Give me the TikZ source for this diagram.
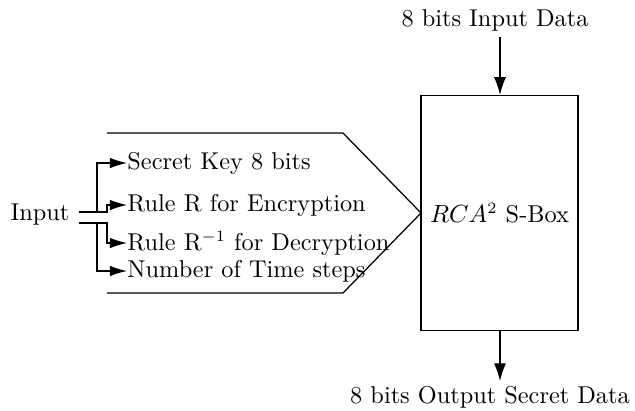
\documentclass[tikz,border=0pt]{standalone}
\usetikzlibrary{arrows.meta}
\begin{document}
\begin{tikzpicture}[x=0.44pt,y=-0.44pt,
  every node/.style={font=\fontsize{10.7}{12.8}\selectfont},
  lbl/.style={inner sep=0pt,anchor=west},
  arr/.style={-{Latex[length=7.5pt,width=4.6pt]},line width=0.55pt},
  varr/.style={-{Latex[length=7.8pt,width=5.3pt]},line width=0.55pt},
  ln/.style={line width=0.55pt}]
\useasboundingbox (0,0) rectangle (635,410);
% S-box
\node[draw,line width=0.55pt,minimum width=157*0.44pt,minimum height=235*0.44pt,inner sep=0pt] (box) at (499.5,213) {$RCA^2$ S-Box};
\node (top) at (495,20) {8 bits Input Data};
\node (bot) at (490,397) {8 bits Output Secret Data};
\coordinate (tin) at (500,37);
\coordinate (bout) at (500,381);
\draw[varr] (tin) -- (box.north -| tin);
\draw[varr] (box.south -| bout) -- (bout);
% pentagon
\coordinate (p1) at (107,133);
\coordinate (p2) at (343,133);
\coordinate (p3) at (421,213);
\coordinate (p4) at (343,293);
\coordinate (p5) at (107,293);
\draw[ln] (p1) -- (p2) -- (p3) -- (p4) -- (p5);
% input
\node (in) at (40,215) {Input};
\node[lbl] (l1) at (127,163) {Secret Key 8 bits};
\node[lbl] (l2) at (127,205) {Rule R for Encryption};
\node[lbl] (l3) at (127,243) {Rule R$^{-1}$ for Decryption};
\node[lbl] (l4) at (127,271) {Number of Time steps};
\coordinate (a) at (79,212);
\coordinate (b) at (79,223);
\draw[arr] (a) -- (97,212) -- (97,163) -- (l1.west);
\draw[arr] (a) -- (107,212) -- (107,205) -- (l2.west);
\draw[arr] (b) -- (107,223) -- (107,243) -- (l3.west);
\draw[arr] (b) -- (97,223) -- (97,271) -- (l4.west);
\end{tikzpicture}
\end{document}
